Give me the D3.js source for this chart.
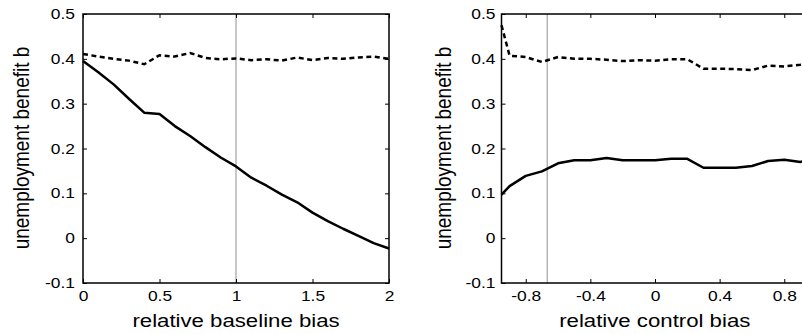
<!DOCTYPE html>
<html lang="en">
<head>
  <meta charset="UTF-8">
  <title>Unemployment benefit vs bias</title>
  <script src="https://d3js.org/d3.v7.min.js"></script>
  <style>
    body { margin: 0; background: white; }
    svg { display: block; font-family: 'Liberation Sans', Arial, sans-serif; }
    .tick line { stroke: black; stroke-width: 1; }
  </style>
</head>
<body>
  <div id="chart"></div>

  <script>
    // left panel: relative baseline bias
    const baseX = [0, 0.1, 0.2, 0.3, 0.4, 0.5, 0.6, 0.7, 0.8, 0.9, 1.0, 1.1, 1.2, 1.3, 1.4, 1.5, 1.6, 1.7, 1.8, 1.9, 2.0];
    const baseSolid = [0.395, 0.37, 0.343, 0.311, 0.28, 0.277, 0.25, 0.228, 0.203, 0.18, 0.16, 0.135, 0.117, 0.097, 0.08, 0.057, 0.038, 0.021, 0.005, -0.011, -0.023];
    const baseDashed = [0.411, 0.405, 0.4, 0.396, 0.388, 0.408, 0.405, 0.413, 0.402, 0.399, 0.401, 0.397, 0.399, 0.396, 0.403, 0.397, 0.402, 0.4, 0.403, 0.405, 0.4];
    const baseTicks = [0, 0.5, 1, 1.5, 2];
    const baseRef = 1;

    // right panel: relative control bias
    const ctrlX = [-0.95, -0.9, -0.8, -0.7, -0.6, -0.5, -0.4, -0.3, -0.2, -0.1, 0, 0.1, 0.2, 0.3, 0.4, 0.5, 0.6, 0.7, 0.8, 0.9, 0.95];
    const ctrlSolid = [0.097, 0.116, 0.139, 0.149, 0.167, 0.174, 0.174, 0.179, 0.174, 0.174, 0.174, 0.177, 0.177, 0.157, 0.157, 0.157, 0.161, 0.172, 0.175, 0.17, 0.175];
    const ctrlDashed = [0.475, 0.407, 0.404, 0.393, 0.404, 0.4, 0.4, 0.398, 0.395, 0.397, 0.396, 0.399, 0.399, 0.378, 0.378, 0.377, 0.375, 0.385, 0.383, 0.387, 0.39];
    const ctrlTicks = [-0.8, -0.4, 0, 0.4, 0.8];
    const ctrlRef = -2 / 3;

    const yTicks = [-0.1, 0, 0.1, 0.2, 0.3, 0.4, 0.5];
    const yLabel = "unemployment benefit b";

    const W = 802, H = 334;
    const stretch = 1.2;   // text in the picture is a bit wide
    const fmt = d => String(d);   // plain hyphen minus, like the original

    const svg = d3.select("#chart").append("svg").attr("width", W).attr("height", H);

    function panel(opt) {
      const x = d3.scaleLinear().domain(opt.xDomain).range(opt.xRange);
      const y = d3.scaleLinear().domain([-0.1, 0.5]).range([283, 14]);
      const g = svg.append("g");
      const [x0, x1] = opt.xRange, [y1, y0] = y.range();

      // reference line
      g.append("line")
        .attr("x1", x(opt.ref)).attr("x2", x(opt.ref))
        .attr("y1", y0).attr("y2", y1)
        .attr("stroke", "#b4b4b4").attr("stroke-width", 1.5);

      const line = d3.line().x(d => x(d[0])).y(d => y(d[1]));
      g.append("path")
        .datum(opt.xs.map((v, i) => [v, opt.dashed[i]]))
        .attr("fill", "none").attr("stroke", "black")
        .attr("stroke-width", 2.5).attr("stroke-dasharray", "5,3.5")
        .attr("d", line);
      g.append("path")
        .datum(opt.xs.map((v, i) => [v, opt.solid[i]]))
        .attr("fill", "none").attr("stroke", "black")
        .attr("stroke-width", 2.5).attr("stroke-linejoin", "round")
        .attr("d", line);

      // axes with inward ticks on all sides
      const bottom = g.append("g").attr("transform", `translate(0,${y1})`)
        .call(d3.axisBottom(x).tickValues(opt.xTicks).tickFormat(fmt).tickSizeInner(-4).tickSizeOuter(0).tickPadding(8));
      const left = g.append("g").attr("transform", `translate(${x0},0)`)
        .call(d3.axisLeft(y).tickValues(yTicks).tickFormat(fmt).tickSizeInner(-4).tickSizeOuter(0).tickPadding(opt.yPad));
      g.append("g").attr("transform", `translate(0,${y0})`)
        .call(d3.axisTop(x).tickValues(opt.xTicks).tickFormat("").tickSizeInner(-4).tickSizeOuter(0));
      g.append("g").attr("transform", `translate(${x1},0)`)
        .call(d3.axisRight(y).tickValues(yTicks).tickFormat("").tickSizeInner(-4).tickSizeOuter(0));
      g.selectAll(".domain").remove();

      bottom.selectAll("text")
        .attr("font-size", 14.5).attr("font-family", null).attr("fill", "black")
        .attr("transform", `scale(${stretch},1)`)
        .attr("x", 0);
      left.selectAll("text")
        .attr("font-size", 14.5).attr("font-family", null).attr("fill", "black")
        .attr("x", 0)
        .attr("transform", `translate(${-opt.yPad},0) scale(${stretch},1)`);

      g.append("rect")
        .attr("x", x0).attr("y", y0).attr("width", x1 - x0).attr("height", y1 - y0)
        .attr("fill", "none").attr("stroke", "black").attr("stroke-width", 1.5);

      g.append("text")
        .attr("transform", `translate(${(x0 + Math.min(x1, W)) / 2 + opt.xLabelShift},327) scale(${stretch},1)`)
        .attr("text-anchor", "middle").attr("font-size", 18.5)
        .text(opt.xLabel);
      g.append("text")
        .attr("transform", `translate(${opt.yLabelX},148) scale(${stretch},1) rotate(-90)`)
        .attr("text-anchor", "middle").attr("font-size", 19)
        .text(yLabel);
    }

    panel({
      xs: baseX, solid: baseSolid, dashed: baseDashed,
      xDomain: [0, 2], xRange: [83, 389], xTicks: baseTicks, ref: baseRef,
      xLabel: "relative baseline bias", xLabelShift: 0, yLabelX: 29, yPad: 8
    });
    panel({
      xs: ctrlX, solid: ctrlSolid, dashed: ctrlDashed,
      xDomain: [-0.95, 0.95], xRange: [501.5, 808.5], xTicks: ctrlTicks, ref: ctrlRef,
      xLabel: "relative control bias", xLabelShift: 3, yLabelX: 451, yPad: 6
    });
  </script>
</body>
</html>
